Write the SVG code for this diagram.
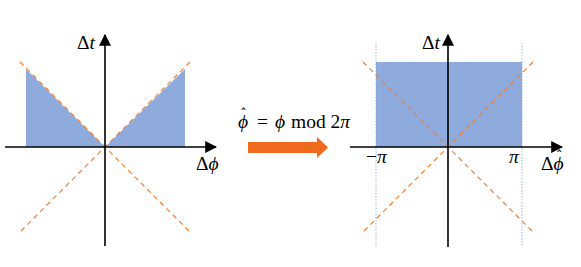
<svg xmlns="http://www.w3.org/2000/svg" width="581" height="267" viewBox="0 0 581 267">
<style>
.axis{stroke:#000;stroke-width:1.6;fill:none}
.dash{stroke:#ed7d31;stroke-width:1.2;stroke-dasharray:5,4;fill:none}
.dot{stroke:#7ea6d8;stroke-width:0.8;stroke-dasharray:1.5,1.5;fill:none}
.fill{fill:#8faadc}
.lbl{font-family:'Liberation Serif','DejaVu Serif',serif;font-size:19.5px;fill:#000}
.hat{font-family:'DejaVu Sans',sans-serif;font-size:14px;font-style:normal}
.it{font-style:italic}
</style>
<defs>
<marker id="ah" viewBox="0 0 10 10" refX="9" refY="5" markerWidth="7.5" markerHeight="7.5" orient="auto" markerUnits="strokeWidth">
<path d="M0,0 L10,5 L0,10 z" fill="#000"/>
</marker>
</defs>
<rect width="581" height="267" fill="#fff"/>
<g id="left-plot">
<polygon class="fill" points="26,69 105,147 26,147"/>
<polygon class="fill" points="105,147 185,69 185,147"/>
<line class="dash" x1="20" y1="62" x2="190" y2="232"/>
<line class="dash" x1="190" y1="62" x2="20" y2="232"/>
<line class="axis" x1="5" y1="147" x2="216" y2="147" marker-end="url(#ah)"/>
<line class="axis" x1="105" y1="246" x2="105" y2="35" marker-end="url(#ah)"/>
<text class="lbl" x="77" y="49">Δ<tspan class="it">t</tspan></text>
<text class="lbl" x="196" y="170">Δ<tspan class="it">ϕ</tspan></text>
</g>
<g id="transform">
<text class="lbl" x="238" y="128"><tspan class="it">ϕ</tspan><tspan class="hat" dx="-8" dy="-9">ˆ</tspan><tspan x="257" y="128">=</tspan><tspan class="it" x="275" y="128">ϕ</tspan><tspan x="291" y="128">mod 2</tspan><tspan class="it">π</tspan></text>
<polygon points="248,142 317,142 317,137 328,147.5 317,158 317,153 248,153" fill="#f06a1e"/>
</g>
<g id="right-plot">
<rect class="fill" x="376" y="62" width="146" height="85"/>
<line class="dot" x1="376" y1="43" x2="376" y2="247"/>
<line class="dot" x1="522" y1="43" x2="522" y2="247"/>
<line class="dash" x1="363" y1="62" x2="533" y2="232"/>
<line class="dash" x1="533" y1="62" x2="363" y2="232"/>
<line class="axis" x1="350" y1="147" x2="562" y2="147" marker-end="url(#ah)"/>
<line class="axis" x1="448" y1="247" x2="448" y2="35" marker-end="url(#ah)"/>
<text class="lbl" x="422" y="49">Δ<tspan class="it">t</tspan></text>
<text class="lbl" x="366" y="163">−<tspan class="it">π</tspan></text>
<text class="lbl it" x="509" y="163">π</text>
<text class="lbl" x="541" y="170">Δ<tspan class="it">ϕ</tspan><tspan class="hat" dx="-8" dy="-9">ˆ</tspan></text>
</g>
</svg>
